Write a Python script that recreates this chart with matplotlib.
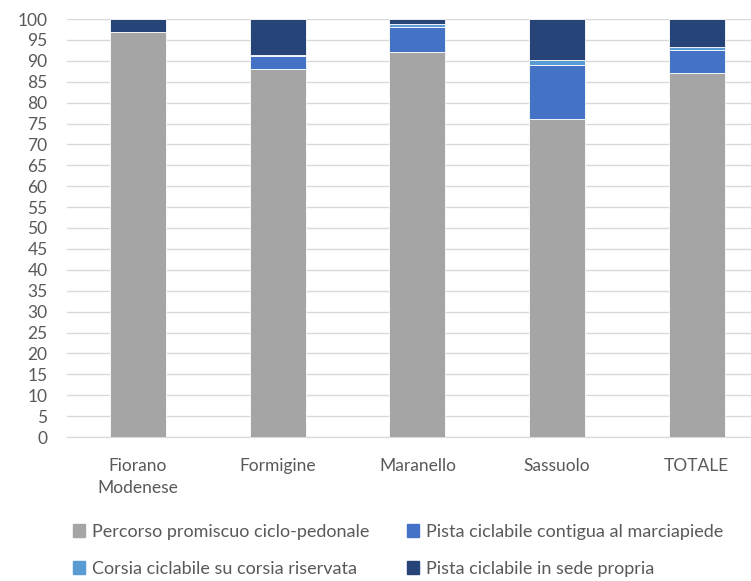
import matplotlib.pyplot as plt
from matplotlib.patches import Patch

comuni = ['Fiorano\nModenese', 'Formigine', 'Maranello', 'Sassuolo', 'TOTALE']
promiscuo = [97.0, 88.0, 92.1, 76.0, 87.0]
contigua = [0.0, 3.1, 6.1, 13.1, 5.7]
corsia = [0.0, 0.4, 0.6, 1.2, 0.6]
sede_propria = [3.0, 8.5, 1.2, 9.7, 6.7]

serie = [
    ('Percorso promiscuo ciclo-pedonale', promiscuo, '#A5A5A5'),
    ('Pista ciclabile contigua al marciapiede', contigua, '#4472C4'),
    ('Corsia ciclabile su corsia riservata', corsia, '#5B9BD5'),
    ('Pista ciclabile in sede propria', sede_propria, '#264478'),
]

plt.rcParams['font.family'] = ['Lato', 'DejaVu Sans']
testo = '#595959'
fs = 12.5

fig = plt.figure(figsize=(7.51, 5.81), dpi=100)
ax = fig.add_axes([67 / 751, 1 - 437 / 581, 1 - 67 / 751, (437 - 19) / 581])

x = range(len(comuni))
base = [0.0] * len(comuni)
for nome, valori, colore in serie:
    ax.bar(x, valori, 0.4, bottom=base, color=colore, label=nome,
           edgecolor='white', linewidth=0.6, zorder=3)
    base = [b + v for b, v in zip(base, valori)]

ax.set_ylim(0, 100)
ax.set_yticks(range(0, 101, 5))
ax.set_xlim(-0.508, 4.388)
ax.set_xticks(list(x))
ax.set_xticklabels(comuni, linespacing=1.5)
ax.grid(axis='y', color='#D9D9D9', linewidth=1, zorder=0)
for s in ['top', 'right', 'left']:
    ax.spines[s].set_visible(False)
ax.spines['bottom'].set_color('#D9D9D9')
ax.tick_params(axis='both', length=0, labelsize=fs, colors=testo)
ax.tick_params(axis='y', pad=14)
ax.tick_params(axis='x', pad=15)

# legenda su due colonne, posizionate a mano
maniglie = [Patch(color=c, label=n) for n, _, c in serie]
colonne = [([maniglie[0], maniglie[2]], 73), ([maniglie[1], maniglie[3]], 407)]
for gruppo, xpos in colonne:
    leg = fig.legend(handles=gruppo, loc='upper left', bbox_to_anchor=(xpos / 751, 1 - 524 / 581),
                     frameon=False, fontsize=13, handlelength=0.68, handleheight=0.68,
                     handletextpad=0.35, labelspacing=1.15, borderpad=0, borderaxespad=0)
    for t in leg.get_texts():
        t.set_color(testo)

fig.savefig('out.png', dpi=100)
